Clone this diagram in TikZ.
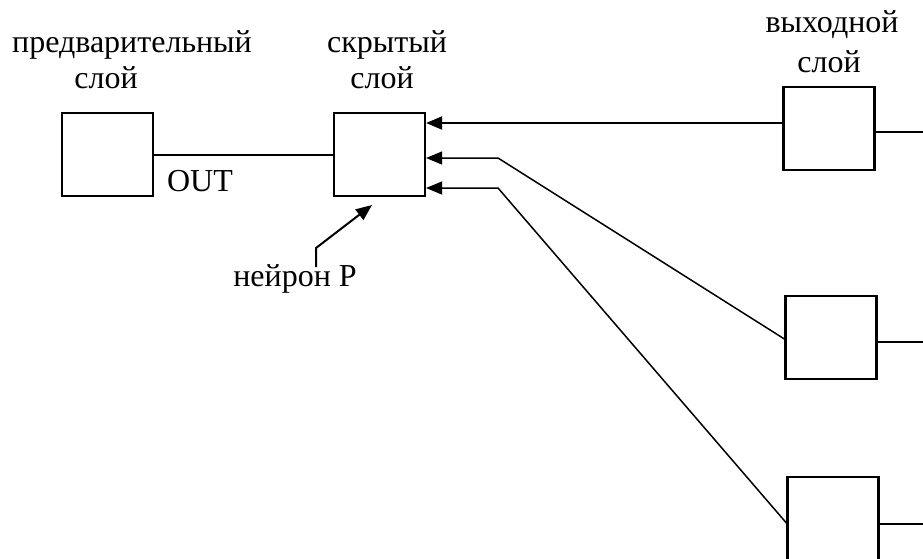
\documentclass[tikz,border=0pt]{standalone}
\usepackage{fontspec}
\setmainfont{Liberation Serif}
\usetikzlibrary{arrows.meta}
\tikzset{
  box/.style={draw, line width=2.2pt, minimum width=91pt, minimum height=83pt, inner sep=0pt},
  wire/.style={line width=2pt},
  thinwire/.style={line width=1.5pt},
  arr/.style={wire, -{Triangle[length=16pt,width=13pt]}},
  lbl/.style={font=\fontsize{32}{38}\selectfont, inner sep=0pt}
}
\begin{document}
\begin{tikzpicture}[x=1pt,y=-1pt]
\useasboundingbox (0,0) rectangle (923,558);
% boxes
\node[box] (pre) at (107.5,154.5) {};
\node[box] (hid) at (379.5,154.5) {};
\node[box] (o1) at (829,128.5) {};
\node[box] (o2) at (831,337.5) {};
\node[box] (o3) at (833,518.5) {};
% labels
\node[lbl] (t1) at (132,45) {предварительный};
\node[lbl] (t2) at (106,78) {слой};
\node[lbl] (t3) at (387,45) {скрытый};
\node[lbl] (t4) at (382,78) {слой};
\node[lbl] (t5) at (832,25) {выходной};
\node[lbl] (t6) at (829,62) {слой};
\node[lbl] (out) at (200,181) {OUT};
\node[lbl] (np) at (295,279) {нейрон P};
% free ends and bends
\coordinate (e1) at (923,132);
\coordinate (e2) at (923,342);
\coordinate (e3) at (923,524);
\coordinate (b2) at (498,158);
\coordinate (b3) at (498,188);
\coordinate (n0) at (316,267);
\coordinate (n1) at (316,248);
\coordinate (n2) at (372,205);
% connectors
\draw[wire] (pre.east) -- (hid.west);
\draw[arr] ([yshift=5.5pt]o1.west) -- ([yshift=31.5pt]hid.east);
\draw[arr, thinwire] ([yshift=-1.5pt]o2.west) -- (b2) -- ([yshift=-3.5pt]hid.east);
\draw[arr, thinwire] ([yshift=-4.5pt]o3.west) -- (b3) -- ([yshift=-33.5pt]hid.east);
\draw[wire] ([yshift=-3.5pt]o1.east) -- (e1);
\draw[wire] ([yshift=-4.5pt]o2.east) -- (e2);
\draw[wire] ([yshift=-5.5pt]o3.east) -- (e3);
\draw[arr] (n0) -- (n1) -- (n2);
\end{tikzpicture}
\end{document}
